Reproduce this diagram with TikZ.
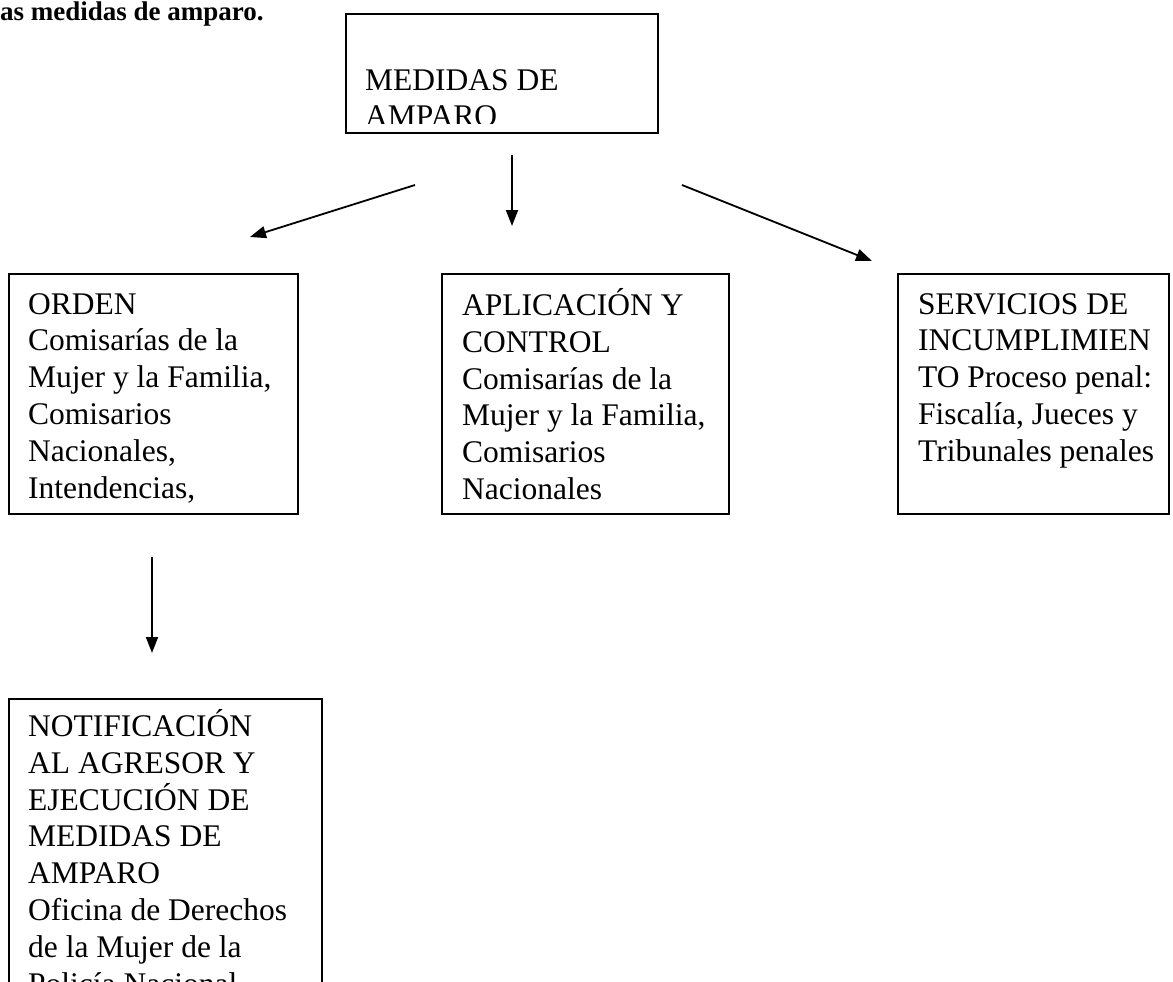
\documentclass[tikz,border=0pt]{standalone}
\usepackage{fontspec}
\setmainfont{Liberation Serif}
\usetikzlibrary{arrows.meta}
\begin{document}
\begin{tikzpicture}[x=1pt,y=-1pt,
  box/.style={draw, line width=1.6pt, inner sep=0pt, anchor=north west},
  txt/.style={anchor=north west, inner sep=0pt, align=left, font=\fontsize{31.5}{36.8}\selectfont},
  arr/.style={line width=1.8pt, -{Triangle[length=16pt,width=12pt]}},
]
\useasboundingbox (0,0) rectangle (1173,982);

% caption fragment
\node[anchor=base west, inner sep=0pt, font=\bfseries\fontsize{27}{32}\selectfont] (title) at (0,21) {as medidas de amparo.};

% boxes
\node[box, minimum width=312pt, minimum height=119pt] (top) at (345,13) {};
\node[box, minimum width=289pt, minimum height=240pt] (orden) at (8,273) {};
\node[box, minimum width=287pt, minimum height=240pt] (aplic) at (441,273) {};
\node[box, minimum width=271pt, minimum height=240pt] (serv) at (897,273) {};
\node[box, minimum width=313pt, minimum height=300pt] (notif) at (8,698) {};

% texts
\begin{scope}
  \clip (347,15) rectangle (655,123);
  \node[txt] (toptxt) at (365,64.2) {\strut MEDIDAS DE\\AMPARO};
\end{scope}
\node[txt] (ordentxt) at (28,288.2) {\strut ORDEN\\Comisarías de la\\Mujer y la Familia,\\Comisarios\\Nacionales,\\Intendencias,};
\node[txt] (aplictxt) at (462,288.2) {\strut APLICACIÓN Y\\CONTROL\\Comisarías de la\\Mujer y la Familia,\\Comisarios\\Nacionales};
\node[txt] (servtxt) at (918,288.2) {\strut SERVICIOS DE\\INCUMPLIMIEN\\TO Proceso penal:\\Fiscalía, Jueces y\\Tribunales penales};
\begin{scope}
  \clip (10,700) rectangle (320,982);
  \node[txt] (notiftxt) at (28,709.2) {\strut NOTIFICACIÓN\\AL AGRESOR Y\\EJECUCIÓN DE\\MEDIDAS DE\\AMPARO\\Oficina de Derechos\\de la Mujer de la\\Policía Nacional};
\end{scope}

% arrow end points
\coordinate (a1s) at (415,185);
\coordinate (a1e) at (250,237);
\coordinate (a2s) at (512,155);
\coordinate (a2e) at (512,226);
\coordinate (a3s) at (682,185);
\coordinate (a3e) at (872,261);
\coordinate (a4s) at (152,557);
\coordinate (a4e) at (152,653);

\draw[arr] (a1s) -- (a1e);
\draw[arr] (a2s) -- (a2e);
\draw[arr] (a3s) -- (a3e);
\draw[arr] (a4s) -- (a4e);
\end{tikzpicture}
\end{document}
